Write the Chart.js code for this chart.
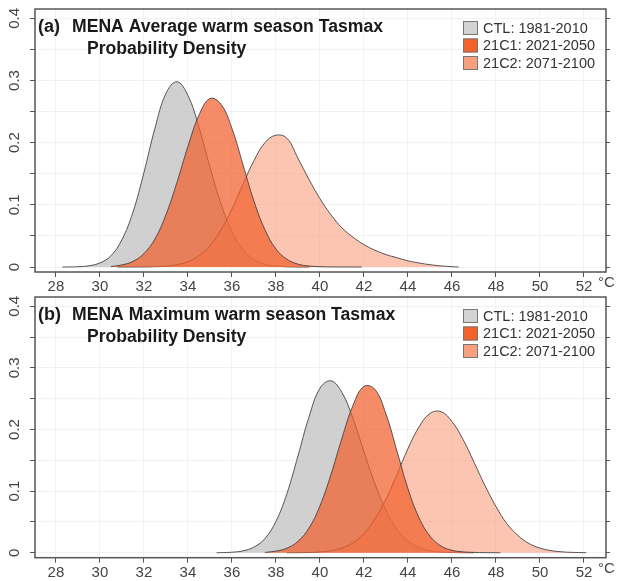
<!DOCTYPE html>
<html>
<head>
<meta charset="utf-8">
<script src="https://cdn.jsdelivr.net/npm/chart.js@4.4.1/dist/chart.umd.min.js"></script>
<style>
  html, body { margin: 0; padding: 0; background: #fff; }
  #wrap { position: relative; width: 617px; height: 581px; overflow: hidden; }
  canvas { position: absolute; left: 0; }
  #chartA { top: 0; }
  #chartB { top: 290px; }
</style>
</head>
<body>
<div id="wrap">
  <canvas id="chartA" width="617" height="295"></canvas>
  <canvas id="chartB" width="617" height="291"></canvas>
</div>
<script>
// axis ticks
const xTicks = [28, 30, 32, 34, 36, 38, 40, 42, 44, 46, 48, 50, 52];
const yTicks = [0, 0.05, 0.1, 0.15, 0.2, 0.25, 0.3, 0.35, 0.4];
const yTickLabels = [0, 0.1, 0.2, 0.3, 0.4];
const unitLabel = '°C';

const seriesNames = ['CTL: 1981-2010', '21C1: 2021-2050', '21C2: 2071-2100'];
const subTitle = 'Probability Density';

// (a) average warm season Tasmax
const avgCtlT = [28.3, 28.5, 29, 29.5, 30, 30.5, 31, 31.5, 32, 32.5, 33, 33.5, 34, 34.5, 35, 35.5, 36, 36.5, 37, 37.5, 38, 38.5, 39, 39.5];
const avgCtlP = [0, 0.0001, 0.0005, 0.002, 0.0066, 0.018, 0.044, 0.088, 0.152, 0.223, 0.279, 0.298, 0.276, 0.225, 0.161, 0.102, 0.057, 0.028, 0.012, 0.0045, 0.0015, 0.0004, 0.0001, 0];
const avg21c1T = [30.5, 31, 31.5, 32, 32.5, 33, 33.5, 34, 34.5, 35, 35.5, 36, 36.5, 37, 37.5, 38, 38.5, 39, 39.5, 40, 40.5, 41, 41.9];
const avg21c1P = [0.0008, 0.0034, 0.0091, 0.0216, 0.045, 0.084, 0.136, 0.194, 0.244, 0.271, 0.262, 0.223, 0.165, 0.106, 0.060, 0.029, 0.0125, 0.0047, 0.0016, 0.0006, 0.0002, 0.0001, 0];
const avg21c2T = [30.8, 31.5, 32, 32.5, 33, 33.5, 34, 34.5, 35, 35.5, 36, 36.5, 37, 37.5, 38, 38.5, 39, 39.5, 40, 40.5, 41, 41.5, 42, 42.5, 43, 43.5, 44, 44.5, 45, 45.5, 46, 46.3];
const avg21c2P = [0, 0.0001, 0.0002, 0.0006, 0.0015, 0.0037, 0.0086, 0.018, 0.0345, 0.0595, 0.093, 0.133, 0.171, 0.200, 0.212, 0.207, 0.175, 0.141, 0.110, 0.084, 0.063, 0.048, 0.036, 0.027, 0.020, 0.015, 0.010, 0.0065, 0.0038, 0.0018, 0.0006, 0];

// (b) maximum warm season Tasmax
const maxCtlT = [35.3, 35.5, 36, 36.5, 37, 37.5, 38, 38.5, 39, 39.5, 40, 40.5, 41, 41.5, 42, 42.5, 43, 43.5, 44, 44.5, 45, 45.5, 46, 46.5, 47];
const maxCtlP = [0, 0.0002, 0.0009, 0.0031, 0.0092, 0.023, 0.051, 0.096, 0.157, 0.220, 0.267, 0.279, 0.260, 0.218, 0.164, 0.112, 0.069, 0.038, 0.019, 0.0085, 0.0034, 0.0012, 0.0004, 0.0001, 0];
const max21c1T = [37.5, 38, 38.5, 39, 39.5, 40, 40.5, 41, 41.5, 42, 42.5, 43, 43.5, 44, 44.5, 45, 45.5, 46, 46.5, 47, 47.5, 48, 48.2];
const max21c1P = [0.0006, 0.0027, 0.0075, 0.0185, 0.040, 0.076, 0.127, 0.186, 0.239, 0.270, 0.265, 0.225, 0.165, 0.104, 0.057, 0.027, 0.011, 0.004, 0.0015, 0.0006, 0.0002, 0.0001, 0];
const max21c2T = [38.5, 39, 39.5, 40, 40.5, 41, 41.5, 42, 42.5, 43, 43.5, 44, 44.5, 45, 45.5, 46, 46.5, 47, 47.5, 48, 48.5, 49, 49.5, 50, 50.5, 51, 51.5, 52, 52.1];
const max21c2P = [0.0001, 0.0002, 0.0005, 0.0013, 0.0033, 0.0077, 0.016, 0.031, 0.055, 0.087, 0.127, 0.169, 0.204, 0.226, 0.229, 0.213, 0.184, 0.147, 0.109, 0.075, 0.047, 0.028, 0.015, 0.0076, 0.0035, 0.0015, 0.0006, 0.0002, 0];

const fillColors = ['rgba(195,195,195,0.78)', 'rgba(242,95,44,0.72)', 'rgba(250,150,115,0.55)'];
const legendColors = ['#d3d3d3', '#f4622c', '#f9a07c'];
const drawOrder = [2, 0, 1];   // lower = drawn later (on top)

const FONT = '"Liberation Sans", Arial, Helvetica, sans-serif';
Chart.defaults.font.family = FONT;

function zip(ts, ps) {
  return ts.map((t, i) => ({ x: t, y: ps[i] }));
}

const panelDecor = {
  id: 'panelDecor',
  afterDraw(chart, args, opts) {
    const ctx = chart.ctx;
    const a = chart.chartArea;
    const yScale = chart.scales.y;
    ctx.save();

    // frame
    ctx.strokeStyle = '#555';
    ctx.lineWidth = 1.5;
    ctx.strokeRect(a.left, a.top, a.right - a.left, a.bottom - a.top);

    // rotated y tick labels
    ctx.fillStyle = '#444';
    ctx.font = '15px ' + FONT;
    ctx.textAlign = 'center';
    ctx.textBaseline = 'middle';
    yTickLabels.forEach(v => {
      ctx.save();
      ctx.translate(a.left - 20, yScale.getPixelForValue(v));
      ctx.rotate(-Math.PI / 2);
      ctx.fillText(String(v), 0, 0);
      ctx.restore();
    });

    // unit
    ctx.textAlign = 'left';
    ctx.textBaseline = 'alphabetic';
    ctx.fillText(unitLabel, 598, a.bottom + 15);

    // titles
    ctx.fillStyle = '#1a1a1a';
    ctx.font = 'bold 18px ' + FONT;
    ctx.fillText(opts.tag, a.left + 3, a.top + 23);
    ctx.font = 'bold 17.6px ' + FONT;
    ctx.fillText(opts.title, 72, a.top + 23);
    ctx.fillText(subTitle, 87, a.top + 45);

    // legend
    ctx.font = '14.5px ' + FONT;
    ctx.textBaseline = 'middle';
    seriesNames.forEach((name, i) => {
      const top = a.top + 12 + i * 17.5;
      ctx.fillStyle = legendColors[i];
      ctx.fillRect(463, top, 15, 14);
      ctx.strokeStyle = '#777';
      ctx.lineWidth = 1;
      ctx.strokeRect(463.5, top + 0.5, 14, 13);
      ctx.fillStyle = '#333';
      ctx.fillText(name, 483, top + 7.5);
    });
    ctx.restore();
  }
};

function makePanel(canvasId, tag, title, series, padTop) {
  const canvas = document.getElementById(canvasId);
  const xAxisHeight = canvas.height - (padTop === 9 ? 272 : 267.7);
  const datasets = series.map((s, i) => ({
    label: seriesNames[i],
    data: zip(s[0], s[1]),
    backgroundColor: fillColors[i],
    borderColor: 'rgba(60,60,60,0.85)',
    borderWidth: 1,
    pointRadius: 0,
    fill: 'origin',
    tension: 0.4,
    order: drawOrder[i]
  }));

  new Chart(canvas.getContext('2d'), {
    type: 'line',
    data: { datasets: datasets },
    options: {
      responsive: false,
      animation: false,
      events: [],
      layout: { padding: { top: padTop, right: 11, left: 0, bottom: 0 } },
      plugins: {
        legend: { display: false },
        tooltip: { enabled: false },
        panelDecor: { tag: tag, title: title }
      },
      scales: {
        x: {
          type: 'linear',
          min: 27.05,
          max: 53,
          afterBuildTicks: sc => { sc.ticks = xTicks.map(v => ({ value: v })); },
          afterFit: sc => { sc.height = xAxisHeight; },
          grid: { color: '#f3f3f3', tickColor: '#555', tickLength: 5, lineWidth: 1 },
          border: { display: false },
          ticks: { color: '#444', font: { size: 15 }, padding: 1, maxRotation: 0, autoSkip: false }
        },
        y: {
          min: -0.008,
          max: 0.415,
          afterBuildTicks: sc => { sc.ticks = yTicks.map(v => ({ value: v })); },
          afterFit: sc => { sc.width = 35; },
          grid: { color: '#f1f1f1', tickColor: '#555', tickLength: 5 },
          border: { display: false },
          ticks: { display: false }
        },
        y2: {
          position: 'right',
          min: -0.008,
          max: 0.415,
          afterBuildTicks: sc => { sc.ticks = yTicks.map(v => ({ value: v })); },
          afterFit: sc => { sc.width = 0; },
          grid: { drawOnChartArea: false, tickColor: '#555', tickLength: 4 },
          border: { display: false },
          ticks: { display: false }
        }
      }
    },
    plugins: [panelDecor]
  });
}

makePanel('chartA', '(a)', 'MENA Average warm season Tasmax',
  [[avgCtlT, avgCtlP], [avg21c1T, avg21c1P], [avg21c2T, avg21c2P]], 9);
makePanel('chartB', '(b)', 'MENA Maximum warm season Tasmax',
  [[maxCtlT, maxCtlP], [max21c1T, max21c1P], [max21c2T, max21c2P]], 7);
</script>
</body>
</html>
